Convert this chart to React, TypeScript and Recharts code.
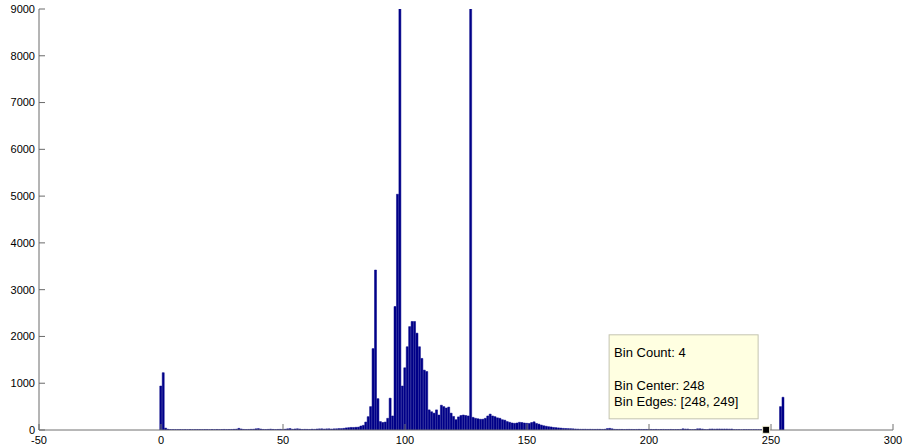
import { BarChart, Bar, XAxis, YAxis, ReferenceDot } from 'recharts';

// histogram counts, one bin per integer value
const leftTail = [
  940, 1225, 40, 15, 10, 8, 9, 8, 10, 8,
  9, 8, 10, 9, 8, 10, 9, 8, 10, 9,
  8, 10, 9, 11, 9, 10, 12, 10, 11, 12,
  14, 18, 35, 22, 12, 10, 12, 14, 16, 25,
  30, 20, 12, 11, 13, 18, 12, 10, 12, 14,
  12, 16, 25, 30, 15, 22, 26, 20, 12, 14,
  13, 12, 16, 14, 20, 24, 25, 20, 24, 25,
  20, 24, 26, 30, 30, 35, 45, 50, 55, 55,
];

const mainPeaks = [
  58, 62, 85, 100, 170, 285, 500, 1740, 3420, 670,
  180, 160, 170, 250, 680, 300, 2640, 5040, 12000, 940,
  1330, 1780, 2210, 2320, 2320, 2070, 1780, 1530, 1280, 1250,
  430, 390, 360, 430, 320, 530, 500, 470, 490, 360,
  290, 220, 280, 310, 320, 310, 300, 11000, 270, 250,
  240, 230, 230, 250, 300, 340,
];

const rightTail = [
  300, 285, 260, 250, 220, 210, 180, 165, 150, 143,
  150, 165, 160, 150, 143, 140, 160, 175, 140, 125,
  105, 90, 80, 70, 65, 55, 50, 45, 40, 35,
  32, 30, 28, 25, 22, 18, 16, 15, 16, 14,
  15, 14, 13, 15, 14, 13, 15, 30, 35, 25,
  14, 12, 13, 12, 11, 12, 13, 12, 11, 12,
  13, 12, 11, 12, 13, 12, 11, 12, 10, 11,
  12, 10, 11, 12, 10, 11, 10, 12, 25, 20,
  20, 10, 9, 11, 25, 25, 20, 10, 9, 20,
  22, 18, 20, 22, 19, 21, 20, 18, 20, 8,
  9, 8, 7, 8, 9, 8, 7, 8, 7, 8,
  7, 8, 4, 0, 0, 0, 0, 0, 500, 700,
];

const xTicks = [-50, 0, 50, 100, 150, 200, 250, 300];
const yTicks = [0, 1000, 2000, 3000, 4000, 5000, 6000, 7000, 8000, 9000];

const tipBin = 248;
const tipCount = 4;
const tipLines = ['Bin Count: 4', '', 'Bin Center: 248', 'Bin Edges: [248, 249]'];

const counts = [...leftTail, ...mainPeaks, ...rightTail];
const data = counts.map((count, bin) => ({ bin, count }));

const labelFont = { fill: '#000', fontSize: 11, fontFamily: 'Liberation Sans, Arial, sans-serif' };

// mirrored axes keep their tick marks but show no labels
const NoLabel = () => <g />;

function DataTip({ cx, cy }: any) {
  if (cx == null || cy == null) return null;
  const left = cx - 157;
  const top = cy - 95;
  return (
    <g>
      <rect x={left} y={top} width={149} height={84} fill="#ffffe1" stroke="#c4c4b0" />
      {tipLines.map((t, i) =>
        t ? (
          <text
            key={i}
            x={left + 5}
            y={top + 22 + i * 16.5}
            fontSize={13}
            fontFamily="Liberation Sans, Arial, sans-serif"
            fill="#000"
          >
            {t}
          </text>
        ) : null
      )}
      <rect x={cx - 3.5} y={cy - 3.5} width={7} height={7} fill="#000" stroke="#f2eed6" strokeWidth={1} />
    </g>
  );
}

export default function App() {
  return (
    <div style={{ position: 'absolute', left: 0, top: 0, width: 904, height: 448, background: '#fff' }}>
      <BarChart
        width={904}
        height={448}
        data={data}
        margin={{ top: 9, right: 11, bottom: 0, left: 0 }}
        barCategoryGap={0}
        barGap={0}
      >
        <XAxis
          dataKey="bin"
          type="number"
          domain={[-50, 300]}
          ticks={xTicks}
          interval={0}
          height={18}
          tickSize={-6}
          tickMargin={12}
          axisLine={{ stroke: '#707070' }}
          tickLine={{ stroke: '#707070' }}
          tick={labelFont}
        />
        <XAxis
          xAxisId="top"
          orientation="top"
          type="number"
          domain={[-50, 300]}
          ticks={xTicks}
          interval={0}
          height={0}
          tickSize={-6}
          axisLine={{ stroke: '#9a9a9a' }}
          tickLine={{ stroke: '#707070' }}
          tick={NoLabel}
        />
        <YAxis
          type="number"
          domain={[0, 9000]}
          allowDataOverflow
          ticks={yTicks}
          interval={0}
          width={39}
          tickSize={-6}
          tickMargin={10}
          axisLine={{ stroke: '#6a6a6a' }}
          tickLine={{ stroke: '#6a6a6a' }}
          tick={labelFont}
        />
        <YAxis
          yAxisId="right"
          orientation="right"
          type="number"
          domain={[0, 9000]}
          ticks={yTicks}
          interval={0}
          width={0}
          tickSize={-6}
          axisLine={{ stroke: '#222' }}
          tickLine={{ stroke: '#333' }}
          tick={NoLabel}
        />
        <Bar dataKey="count" fill="#000088" stroke="#000088" strokeWidth={0.5} isAnimationActive={false} />
        <ReferenceDot x={tipBin} y={tipCount} shape={<DataTip />} />
      </BarChart>
    </div>
  );
}
